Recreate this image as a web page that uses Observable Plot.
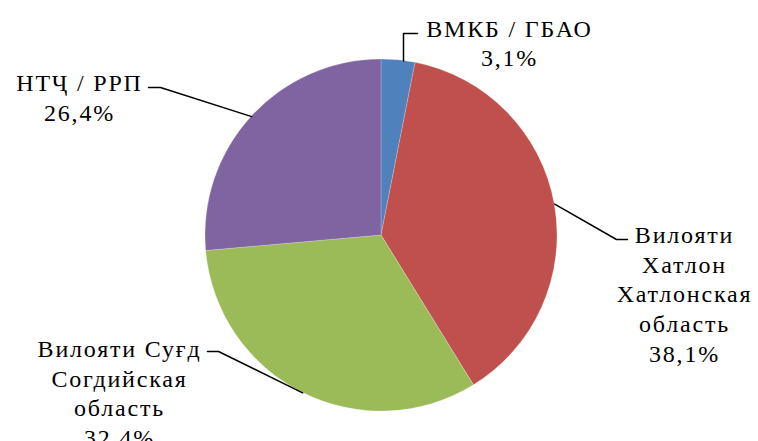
<!DOCTYPE html>
<html>
<head>
<meta charset="utf-8">
<script src="https://cdn.jsdelivr.net/npm/d3@7"></script>
<script src="https://cdn.jsdelivr.net/npm/@observablehq/plot@0.6"></script>
<style>
  html, body { margin: 0; padding: 0; background: #fff; }
  #chart { width: 758px; height: 441px; overflow: hidden; }
  #chart svg text { font-family: "Liberation Serif", "DejaVu Serif", serif; letter-spacing: 1.8px; }
</style>
</head>
<body>
<div id="chart"></div>
<script>
// ---- data ----
const categories = ["ВМКБ / ГБАО", "Вилояти Хатлон", "Вилояти Суғд", "НТҶ / РРП"];
const labelTexts = [
  "ВМКБ / ГБАО\n3,1%",
  "Вилояти\nХатлон\nХатлонская\nобласть\n38,1%",
  "Вилояти Суғд\nСогдийская\nобласть\n32,4%",
  "НТҶ / РРП\n26,4%"
];
const shares = [3.1, 38.1, 32.4, 26.4];
const colors = ["#4F81BD", "#C0504D", "#9BBB59", "#8064A2"];

// ---- layout (annotation placement) ----
const pieCenter = [381, 235];
const pieRadius = 176;
const labelX = [509, 684, 119, 79];
const labelTop = [15.5, 222, 336, 70];
const leaderElbow = [[403, 33], [616, 239], [218, 351], [160, 87]];
const leaderEnd = [[417, 33], [627, 239], [207, 351], [148, 87]];
const leaderVertical = [true, false, false, false];

// ---- build ----
const pie = d3.pie().sort(null).value(d => d)(shares);
const table = categories.map((c, i) => ({
  category: c, share: shares[i], color: colors[i],
  label: labelTexts[i], lx: labelX[i], ly: labelTop[i],
  start: pie[i].startAngle, end: pie[i].endAngle
}));

const leaders = [];
table.forEach((d, i) => {
  const a = (d.start + d.end) / 2;
  let sx = pieCenter[0] + pieRadius * Math.sin(a), sy = pieCenter[1] - pieRadius * Math.cos(a);
  if (leaderVertical[i]) {
    sx = leaderElbow[i][0];
    sy = pieCenter[1] - Math.sqrt(pieRadius * pieRadius - (sx - pieCenter[0]) ** 2);
  }
  leaders.push({id: i, x: sx, y: sy});
  leaders.push({id: i, x: leaderElbow[i][0], y: leaderElbow[i][1]});
  leaders.push({id: i, x: leaderEnd[i][0], y: leaderEnd[i][1]});
});

function pieMark(index, scales) {
  const sx = scales && scales.x ? scales.x : v => v;
  const sy = scales && scales.y ? scales.y : v => v;
  const cx = sx(pieCenter[0]), cy = sy(pieCenter[1]);
  const r = sx(pieCenter[0] + pieRadius) - cx;
  const arc = d3.arc().innerRadius(0).outerRadius(r);
  const g = d3.create("svg:g").attr("transform", `translate(${cx},${cy})`);
  g.selectAll("path").data(table).join("path")
    .attr("d", d => arc({startAngle: d.start, endAngle: d.end}))
    .attr("fill", d => d.color)
    .attr("stroke", "rgba(255,255,255,0.35)")
    .attr("stroke-width", 0.6);
  return g.node();
}

const chart = Plot.plot({
  width: 758,
  height: 441,
  margin: 0,
  x: {type: "linear", domain: [0, 758], range: [0, 758], axis: null},
  y: {type: "linear", domain: [0, 441], range: [0, 441], axis: null},
  style: {background: "white"},
  marks: [
    pieMark,
    Plot.line(leaders, {x: "x", y: "y", z: "id", stroke: "black", strokeWidth: 1.5, curve: "linear"}),
    Plot.text(table, {
      x: "lx", y: "ly", text: "label",
      fontFamily: "'Liberation Serif', 'DejaVu Serif', serif", fontSize: 24,
      lineAnchor: "top", lineHeight: 1.23, textAnchor: "middle", fill: "black"
    })
  ]
});
document.getElementById("chart").appendChild(chart);
</script>
</body>
</html>
